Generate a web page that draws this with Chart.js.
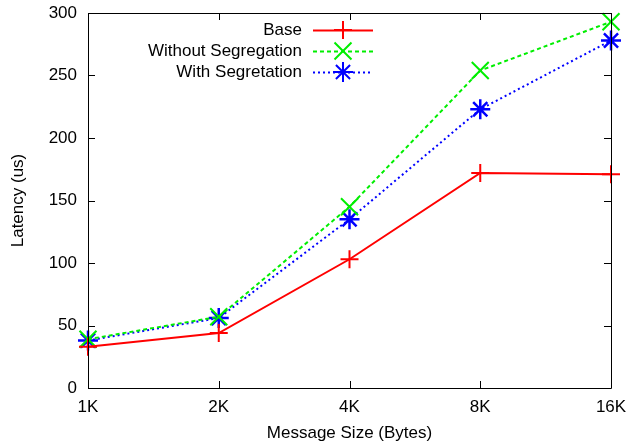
<!DOCTYPE html>
<html><head><meta charset="utf-8">
<script src="https://cdn.jsdelivr.net/npm/chart.js@4.4.0/dist/chart.umd.min.js"></script>
<style>html,body{margin:0;padding:0;background:#fff}#wrap{width:626px;height:444px}</style>
</head><body><div id="wrap"><canvas id="c" width="626" height="444"></canvas></div>
<script>
const categories = ["1K","2K","4K","8K","16K"];
const baseVals = [33, 44, 103, 172, 171];
const withoutSegVals = [39, 57, 145, 254, 293];
const withSegVals = [38, 56, 135, 223, 278];
const yTicks = [0,50,100,150,200,250,300];
const seriesNames = ["Base","Without Segregation","With Segretation"];

const FONT = "'Liberation Sans', Arial, sans-serif";
const FS = 17;

const framePlugin = {
  id:'frame',
  afterDatasetsDraw(chart){
    const {ctx, chartArea:a, scales} = chart;
    ctx.save();
    ctx.strokeStyle='#000'; ctx.lineWidth=1;
    ctx.beginPath();
    ctx.rect(a.left+0.5, a.top+0.5, a.right-a.left, a.bottom-a.top);
    ctx.stroke();
    ctx.beginPath();
    for (const v of yTicks){
      const y = Math.round(scales.y.getPixelForValue(v))+0.5;
      ctx.moveTo(a.left, y); ctx.lineTo(a.left+7, y);
      ctx.moveTo(a.right, y); ctx.lineTo(a.right-7, y);
    }
    categories.forEach((c,i)=>{
      const x = Math.round(scales.x.getPixelForValue(i))+0.5;
      ctx.moveTo(x, a.bottom); ctx.lineTo(x, a.bottom-7);
      ctx.moveTo(x, a.top); ctx.lineTo(x, a.top+7);
    });
    ctx.stroke();
    // legend
    const rows=[30,51,72];
    chart.data.datasets.forEach((ds,i)=>{
      const y=rows[i];
      ctx.fillStyle='#000';
      ctx.font=FS+"px "+FONT;
      ctx.textAlign='right'; ctx.textBaseline='middle';
      ctx.fillText(seriesNames[i], 302, y);
      ctx.strokeStyle=ds.borderColor; ctx.lineWidth=ds.borderWidth;
      ctx.setLineDash(ds.borderDash||[]);
      ctx.beginPath(); ctx.moveTo(313,y+0.5); ctx.lineTo(373,y+0.5); ctx.stroke();
      ctx.setLineDash([]);
      ctx.strokeStyle=ds.borderColor; ctx.fillStyle=ds.borderColor;
      Chart.helpers.drawPoint(ctx,{pointStyle:ds.pointStyle,radius:ds.pointRadius,borderWidth:ds.pointBorderWidth,rotation:0},343,y);
    });
    ctx.restore();
  }
};

new Chart(document.getElementById('c'),{
  type:'line',
  data:{labels:categories,datasets:[
    {label:seriesNames[0],data:baseVals,borderColor:'#ff0000',backgroundColor:'#ff0000',borderWidth:2,pointStyle:'cross',pointRadius:9,pointBorderWidth:2,pointHoverRadius:9,clip:false},
    {label:seriesNames[1],data:withoutSegVals,borderColor:'#00ee00',backgroundColor:'#00ee00',borderWidth:2,borderDash:[4,3],pointStyle:'crossRot',pointRadius:12,pointBorderWidth:2,pointHoverRadius:12,clip:false},
    {label:seriesNames[2],data:withSegVals,borderColor:'#0000ff',backgroundColor:'#0000ff',borderWidth:2,borderDash:[2,3],pointStyle:'star',pointRadius:10,pointBorderWidth:2.5,pointHoverRadius:10,clip:false}
  ]},
  options:{
    responsive:false,animation:false,
    layout:{autoPadding:false,padding:{left:0,right:15,top:13,bottom:0}},
    plugins:{legend:{display:false},tooltip:{enabled:false}},
    scales:{
      x:{type:'category',offset:false,
        grid:{display:false,drawTicks:false},border:{display:false},
        ticks:{color:'#000',font:{family:FONT,size:FS},padding:9,maxRotation:0,autoSkip:false},
        title:{display:true,text:'Message Size (Bytes)',color:'#000',font:{family:FONT,size:FS},padding:{top:4,bottom:0}},
        afterFit(s){s.height=56;s.paddingLeft=0;s.paddingRight=0;s.paddingTop=0;s.paddingBottom=0;}
      },
      y:{min:0,max:300,
        afterBuildTicks(s){s.ticks=yTicks.map(v=>({value:v}));},
        grid:{display:false,drawTicks:false},border:{display:false},
        ticks:{color:'#000',font:{family:FONT,size:FS},padding:11},
        title:{display:true,text:'Latency (us)',color:'#000',font:{family:FONT,size:FS},padding:{top:8,bottom:0}},
        afterFit(s){s.width=88;s.paddingLeft=0;s.paddingRight=0;s.paddingTop=0;s.paddingBottom=0;}
      }
    }
  },
  plugins:[framePlugin]
});
</script></body></html>
